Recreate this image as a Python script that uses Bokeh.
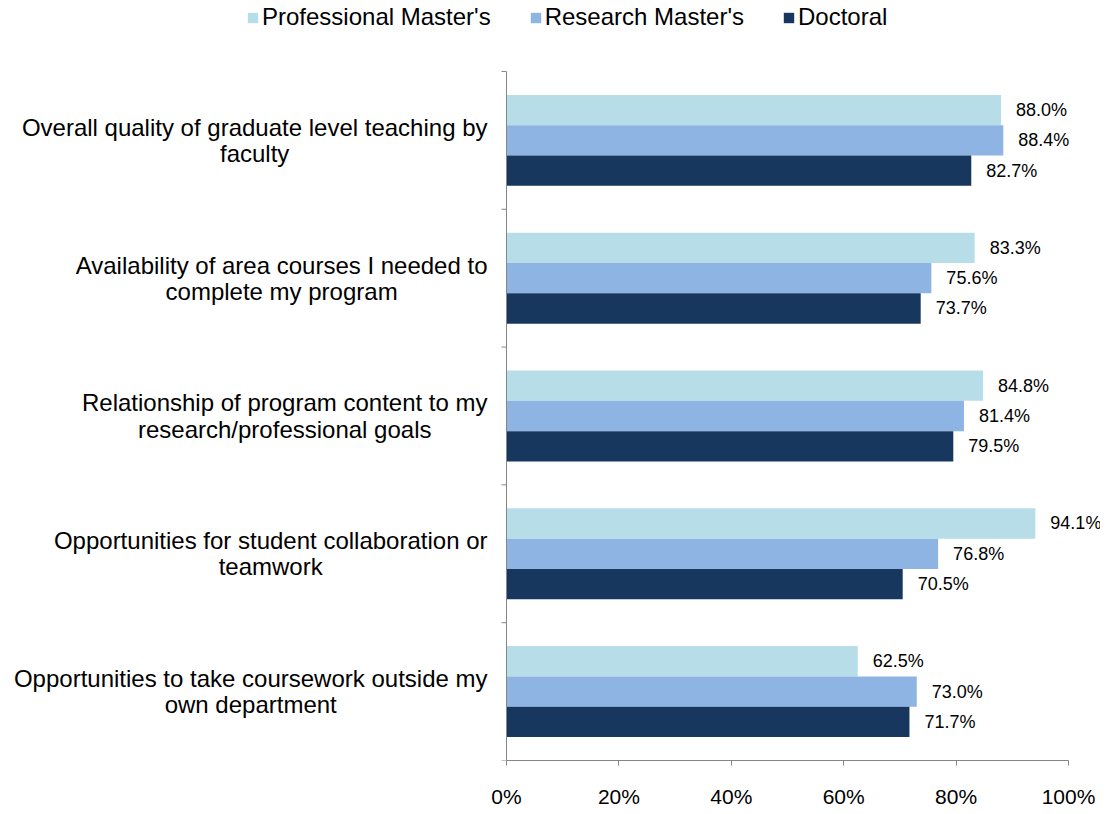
import math
from bokeh.plotting import figure
from bokeh.models import (ColumnDataSource, Range1d, FixedTicker, PrintfTickFormatter,
                          Legend, LegendItem)
from bokeh.embed import file_html
from bokeh.resources import INLINE
from bokeh.core.properties import value

categories = [
    "Overall quality of graduate level teaching by\nfaculty",
    "Availability of area courses I needed to\ncomplete my program",
    "Relationship of program content to my\nresearch/professional goals",
    "Opportunities for student collaboration or\nteamwork",
    "Opportunities to take coursework outside my\nown department",
]
series_names = ["Professional Master's", "Research Master's", "Doctoral"]
professional = [88.0, 83.3, 84.8, 94.1, 62.5]
research = [88.4, 75.6, 81.4, 76.8, 73.0]
doctoral = [82.7, 73.7, 79.5, 70.5, 71.7]
x_ticks = [0, 20, 40, 60, 80, 100]

colors = ["#B7DEE8", "#8EB4E3", "#17375E"]
AXIS_COLOR = "#868686"
FONT = "Liberation Sans"

n = len(categories)
centers = [n - 0.5 - i for i in range(n)]
bar_h = 0.22
offsets = [bar_h, 0.0, -bar_h]

# canvas / plot-area geometry (pixels)
W, H = 1100, 810
X0_PX, X100_PX = 506, 1068      # where 0% and 100% sit
YTOP_PX, YBOT_PX = 72, 771      # top and bottom of category area
px_per_x = (X100_PX - X0_PX) / 100.0
px_per_y = (YBOT_PX - YTOP_PX) / n
x_start = -X0_PX / px_per_x
x_end = (W - X0_PX) / px_per_x
y_end = n + YTOP_PX / px_per_y

p = figure(width=W, height=H, output_backend="svg", toolbar_location=None,
           x_range=Range1d(x_start, x_end), y_range=Range1d(0, y_end),
           min_border_left=0, min_border_right=0, min_border_top=0,
           min_border_bottom=H - YBOT_PX)
p.outline_line_color = None
p.xgrid.visible = False
p.ygrid.visible = False
p.yaxis.visible = False
p.background_fill_color = "white"
p.border_fill_color = "white"

renderers = []
for vals, off, col in zip([professional, research, doctoral], offsets, colors):
    src = ColumnDataSource(dict(
        y=[c + off for c in centers],
        right=vals,
        lab=["%.1f%%" % v for v in vals],
    ))
    r = p.hbar(y="y", left=0, right="right", height=bar_h, source=src,
               fill_color=col, line_color=None)
    renderers.append(r)
    p.text(x="right", y="y", text="lab", source=src, x_offset=15,
           text_align="left", text_baseline="middle",
           text_font=value(FONT), text_font_size="18px", text_color="#000000")

# category (y) axis: line, boundary ticks, labels
p.segment(x0=[0], y0=[0], x1=[0], y1=[n], line_color=AXIS_COLOR, line_width=1)
p.ray(x=[0] * (n + 1), y=list(range(n + 1)), length=5, length_units="screen",
      angle=math.pi, line_color=AXIS_COLOR, line_width=1)
cat_src = ColumnDataSource(dict(x=[0] * n, y=centers, t=categories))
p.text(x="x", y="y", text="t", source=cat_src, x_offset=-19,
       anchor="center_right", text_align="center", text_baseline="middle",
       text_line_height=0.97,
       text_font=value(FONT), text_font_size="24px", text_color="#000000")

# value (x) axis
xa = p.xaxis[0]
xa.bounds = (0, 100)
xa.ticker = FixedTicker(ticks=x_ticks)
xa.formatter = PrintfTickFormatter(format="%d%%")
xa.axis_line_color = AXIS_COLOR
xa.major_tick_line_color = AXIS_COLOR
xa.major_tick_in = 0
xa.major_tick_out = 5
xa.minor_tick_line_color = None
xa.major_label_text_font = FONT
xa.major_label_text_font_size = "21px"
xa.major_label_text_color = "#000000"
xa.major_label_standoff = 19

legend = Legend(
    items=[LegendItem(label=nm, renderers=[r]) for nm, r in zip(series_names, renderers)],
    orientation="horizontal", location=(246, 729),
    label_text_font=FONT, label_text_font_size="24px", label_text_color="#000000",
    glyph_width=13, glyph_height=13, label_standoff=3, spacing=38,
    padding=0, margin=0, border_line_color=None, background_fill_alpha=0,
)
p.add_layout(legend, "center")

open("out.html", "w").write(file_html(p, INLINE))
